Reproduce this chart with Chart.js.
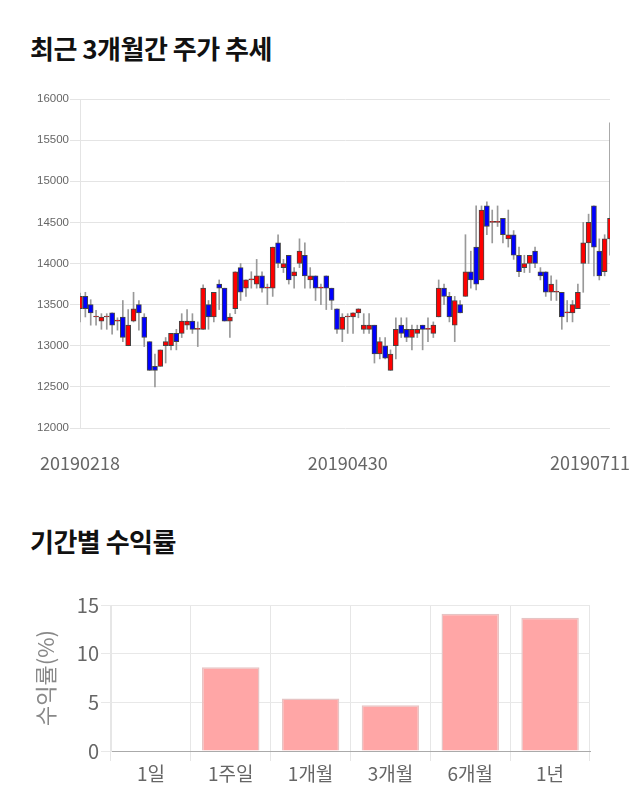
<!DOCTYPE html>
<html><head><meta charset="utf-8">
<script src="https://cdn.jsdelivr.net/npm/chart.js@4"></script>
<style>
html,body{margin:0;padding:0;background:#fff;width:640px;height:810px;overflow:hidden;position:relative;font-family:"Noto Sans CJK KR",sans-serif;}
.ttl{position:absolute;left:30px;font-size:26px;font-weight:bold;color:#111;line-height:30px;margin:0;letter-spacing:-0.5px;}
#c1{position:absolute;left:0;top:0;}
#c2{position:absolute;left:0;top:560px;}
</style></head>
<body>
<div class="ttl" style="top:33px">최근 3개월간 주가 추세</div>
<canvas id="c1" width="640" height="480"></canvas>
<div class="ttl" style="top:526px">기간별 수익률</div>
<canvas id="c2" width="640" height="250"></canvas>
<script>
const dates = [
'20190218','20190219','20190220','20190221','20190222','20190225','20190226','20190227','20190228',
'20190304','20190305','20190306','20190307','20190308','20190311','20190312','20190313','20190314','20190315',
'20190318','20190319','20190320','20190321','20190322','20190325','20190326','20190327','20190328','20190329',
'20190401','20190402','20190403','20190404','20190405','20190408','20190409','20190410','20190411','20190412',
'20190415','20190416','20190417','20190418','20190419','20190422','20190423','20190424','20190425','20190426',
'20190429','20190430',
'20190502','20190503','20190507','20190508','20190509','20190510','20190513','20190514','20190515','20190516',
'20190517','20190520','20190521','20190522','20190523','20190524','20190527','20190528','20190529','20190530','20190531',
'20190603','20190604','20190605','20190607','20190610','20190611','20190612','20190613','20190614','20190617',
'20190618','20190619','20190620','20190621','20190624','20190625','20190626','20190627','20190628',
'20190701','20190702','20190703','20190704','20190705','20190708','20190709','20190710','20190711'];
const openP = [13450,13600,13500,13350,13300,13350,13400,13300,13350,13000,
13300,13500,13350,13050,12750,12750,13000,13000,13150,13150,
13250,13300,13200,13200,13500,13350,13750,13700,13300,13450,
13950,13700,13800,13750,13850,13700,13700,14250,13950,14100,
13850,14000,14100,13800,13850,13700,13850,13700,13450,13200,
13350,13350,13400,13200,13200,13250,12900,13000,12700,13000,
13250,13200,13100,13150,13250,13200,13150,13350,13700,13600,
13250,13500,13600,13900,14200,13800,14700,14500,14500,14550,
14300,14350,14100,13950,14000,14150,13900,13900,13650,13650,
13650,13400,13400,13450,14000,14250,14700,14150,13900,14300];
const closeP = [13600,13450,13400,13350,13350,13350,13250,13300,13100,13250,
13450,13400,13100,12700,12700,12950,13050,13150,13050,13300,
13300,13200,13200,13700,13350,13650,13700,13300,13350,13900,
13650,13800,13800,13850,13700,13700,14200,14000,14000,13800,
13900,14150,13850,13850,13700,13700,13700,13550,13200,13350,
13350,13400,13450,13250,13250,12900,13050,12850,12900,13200,
13150,13100,13200,13200,13200,13200,13250,13700,13600,13350,
13550,13400,13900,13800,13750,14650,14450,14500,14500,14350,
14350,14100,13900,14000,14100,14000,13850,13650,13750,13650,
13350,13400,13500,13650,14250,14500,14200,13850,14300,14550];
const highP = [13640,13650,13560,13430,13390,13390,13400,13340,13550,13440,
13650,13550,13390,13050,12900,12950,13100,13150,13200,13390,
13440,13390,13290,13740,13550,13650,13800,13700,13390,13900,
14000,13800,13900,14050,13900,13750,14200,14350,14050,14100,
13950,14300,14250,13950,13850,13750,13850,13700,13450,13390,
13390,13400,13450,13390,13390,13250,13100,13100,12950,13340,
13340,13340,13250,13250,13250,13340,13290,13800,13750,13650,
13600,13550,14350,14150,14700,14700,14750,14650,14700,14550,
14650,14400,14200,14100,14100,14200,13950,13900,13850,13800,
13650,13550,13550,13750,14500,14600,14700,14300,14350,15710];
const lowP = [13290,13350,13250,13250,13200,13200,13140,13190,13050,13000,
13290,13190,12990,12700,12500,12750,12790,12950,12950,13100,
13200,13150,12990,13200,13200,13290,13440,13300,13100,13390,
13550,13600,13700,13700,13650,13500,13600,13950,13890,13750,
13700,13950,13700,13700,13550,13500,13440,13440,13150,13050,
13150,13150,13340,13150,13150,12790,12840,12840,12700,12840,
13100,13050,12950,13100,12950,13050,13100,13350,13500,13290,
13050,13400,13600,13700,13680,13800,14350,14250,14450,14250,
14200,14050,13840,13890,13890,13950,13800,13600,13550,13550,
13200,13290,13290,13450,13650,14000,13850,13800,13850,14100];
const xTickDates = ['20190218','20190430','20190711'];

const periods = ['1일','1주일','1개월','3개월','6개월','1년'];
const returns = [0, 8.6, 5.4, 4.7, 14.1, 13.7];

const UP = '#ff0000', DOWN = '#0000ff';

new Chart(document.getElementById('c1'), {
  type: 'bar',
  data: {
    labels: dates,
    datasets: [
      {
        data: dates.map((d, i) => [openP[i], closeP[i]]),
        backgroundColor: dates.map((d, i) => closeP[i] >= openP[i] ? UP : DOWN),
        borderColor: '#444',
        borderWidth: 1,
        borderSkipped: false,
        barThickness: 5,
        minBarLength: 1,
        grouped: false,
        clip: 0
      },
      {
        data: dates.map((d, i) => [lowP[i], highP[i]]),
        backgroundColor: '#999',
        borderWidth: 0,
        barThickness: 1,
        grouped: false,
        clip: 0
      }
    ]
  },
  options: {
    responsive: false,
    animation: false,
    layout: { padding: { top: 99, right: 30, bottom: 0, left: 0 } },
    plugins: { legend: { display: false }, tooltip: { enabled: false } },
    scales: {
      x: {
        type: 'category',
        offset: false,
        grid: { display: false },
        border: { display: false },
        ticks: {
          autoSkip: false, maxRotation: 0, padding: 16,
          color: '#666',
          font: { family: '"Noto Sans CJK KR", sans-serif', size: 18 },
          callback: function(v, i) {
            const d = dates[i];
            if (!xTickDates.includes(d)) return null;
            return i === dates.length - 1 ? d + '\u2007\u2007\u2007\u2007' : d;
          }
        },
        afterFit: s => { s.height = 52; s.paddingLeft = 0; s.paddingRight = 0; }
      },
      y: {
        min: 12000, max: 16000,
        grid: { color: '#e4e4e4', tickLength: 10, tickColor: '#e4e4e4' },
        border: { color: '#e4e4e4' },
        ticks: {
          stepSize: 500, padding: 1, color: '#666',
          font: { family: '"Liberation Sans", Arial, sans-serif', size: 11.5 },
          callback: v => String(v)
        },
        afterFit: s => { s.width = 80; }
      }
    }
  }
});

new Chart(document.getElementById('c2'), {
  type: 'bar',
  data: {
    labels: periods,
    datasets: [{
      data: returns,
      backgroundColor: '#ffa6a6',
      borderColor: '#e6c4c4',
      borderWidth: 1.5
    }]
  },
  options: {
    responsive: false,
    animation: false,
    layout: { padding: { top: 45, right: 50, bottom: 0, left: 32 } },
    plugins: { legend: { display: false }, tooltip: { enabled: false } },
    scales: {
      x: {
        grid: { color: '#e6e6e6', tickLength: 10 },
        border: { color: '#aaa' },
        ticks: { color: '#666', padding: 1, font: { family: '"Noto Sans CJK KR", sans-serif', size: 19 } },
        afterFit: s => { s.height = 59; }
      },
      y: {
        min: 0, max: 15,
        grid: { color: '#e8e8e8', tickLength: 10 },
        border: { color: '#e6e6e6' },
        title: { display: true, text: '수익률(%)', color: '#888', padding: 0,
          font: { family: '"Noto Sans CJK KR", sans-serif', size: 22 } },
        ticks: { stepSize: 5, padding: 2, color: '#666',
          font: { family: '"Noto Sans CJK KR", sans-serif', size: 20 } },
        afterFit: s => { s.width = 79; }
      }
    }
  }
});
</script>
</body></html>
